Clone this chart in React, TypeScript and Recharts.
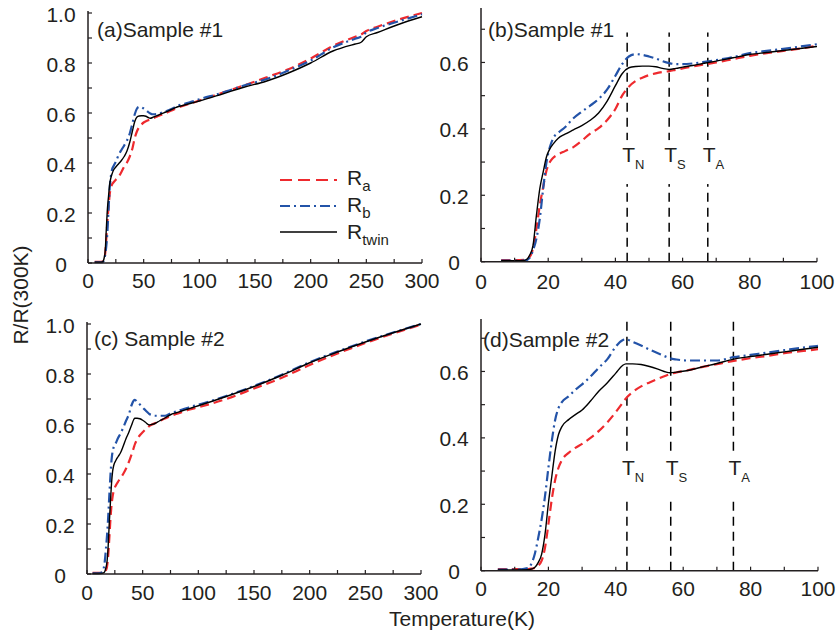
import React from "react";
import {
  LineChart,
  Line,
  XAxis,
  YAxis,
  ReferenceLine,
  ReferenceDot,
} from "recharts";

// sample #1 (panels a, b)
const temps1 = [6, 10, 13, 14.5, 15.5, 16.5, 17.5, 18.5, 19.5, 20.5, 21.5, 23, 25, 27.5, 30, 32.5, 35, 37.5, 40, 42, 44, 46, 48, 50, 52, 54, 56, 58, 60, 63, 66, 70, 75, 80, 85, 90, 95, 100, 120, 140, 160, 180, 200, 220, 240, 245, 250, 260, 280, 300];
const ra1 = [0.005, 0.005, 0.006, 0.015, 0.04, 0.1, 0.17, 0.225, 0.275, 0.3, 0.313, 0.323, 0.333, 0.345, 0.364, 0.386, 0.402, 0.426, 0.46, 0.5, 0.527, 0.544, 0.554, 0.562, 0.567, 0.571, 0.574, 0.578, 0.582, 0.588, 0.593, 0.6, 0.61, 0.62, 0.628, 0.635, 0.642, 0.65, 0.68, 0.71, 0.742, 0.775, 0.818, 0.868, 0.905, 0.913, 0.928, 0.945, 0.975, 1.0];
const rb1 = [0.003, 0.003, 0.003, 0.012, 0.035, 0.07, 0.13, 0.22, 0.3, 0.345, 0.372, 0.388, 0.405, 0.432, 0.452, 0.47, 0.49, 0.518, 0.56, 0.595, 0.618, 0.625, 0.623, 0.618, 0.612, 0.604, 0.598, 0.595, 0.595, 0.597, 0.601, 0.607, 0.616, 0.628, 0.635, 0.641, 0.648, 0.655, 0.68, 0.71, 0.735, 0.77, 0.81, 0.862, 0.897, 0.905, 0.922, 0.94, 0.968, 0.995];
const rtwin1 = [0.003, 0.003, 0.004, 0.02, 0.05, 0.14, 0.22, 0.27, 0.316, 0.34, 0.355, 0.372, 0.384, 0.397, 0.41, 0.426, 0.448, 0.483, 0.53, 0.566, 0.584, 0.588, 0.589, 0.589, 0.587, 0.582, 0.579, 0.582, 0.586, 0.591, 0.597, 0.604, 0.614, 0.624, 0.63, 0.636, 0.642, 0.648, 0.675, 0.703, 0.727, 0.76, 0.8, 0.848, 0.876, 0.882, 0.905, 0.922, 0.956, 0.985];

// sample #2 (panels c, d)
const temps2 = [5, 10, 14, 15, 16, 17, 18, 19, 20, 21, 22, 23, 24, 26, 28, 30, 32.5, 35, 37.5, 40, 42, 43, 45, 47.5, 50, 52.5, 55, 56, 58, 61, 65, 70, 75, 80, 85, 90, 95, 100, 125, 150, 175, 200, 225, 250, 275, 300];
const ra2 = [0.005, 0.005, 0.005, 0.006, 0.008, 0.015, 0.03, 0.07, 0.14, 0.215, 0.273, 0.31, 0.333, 0.355, 0.37, 0.382, 0.4, 0.421, 0.447, 0.478, 0.505, 0.519, 0.538, 0.555, 0.567, 0.578, 0.588, 0.592, 0.597, 0.603, 0.612, 0.622, 0.632, 0.64, 0.647, 0.655, 0.661, 0.667, 0.7, 0.742, 0.785, 0.836, 0.882, 0.924, 0.962, 0.998];
const rb2 = [0.003, 0.003, 0.008, 0.022, 0.052, 0.1, 0.155, 0.225, 0.31, 0.39, 0.454, 0.49, 0.508, 0.525, 0.545, 0.561, 0.585, 0.612, 0.637, 0.675, 0.694, 0.697, 0.689, 0.678, 0.666, 0.655, 0.644, 0.64, 0.636, 0.633, 0.633, 0.633, 0.643, 0.65, 0.657, 0.664, 0.671, 0.677, 0.712, 0.752, 0.797, 0.847, 0.89, 0.93, 0.966, 1.0];
const rtwin2 = [0.002, 0.002, 0.003, 0.005, 0.01, 0.025, 0.05, 0.11, 0.203, 0.283, 0.36, 0.41, 0.434, 0.455, 0.47, 0.484, 0.511, 0.541, 0.566, 0.595, 0.618, 0.623, 0.623, 0.621, 0.615, 0.607, 0.598, 0.596, 0.598, 0.602, 0.612, 0.624, 0.637, 0.645, 0.652, 0.659, 0.666, 0.673, 0.71, 0.75, 0.795, 0.845, 0.888, 0.928, 0.965, 1.0];

const xTicksWide = [0, 25, 50, 75, 100, 125, 150, 175, 200, 225, 250, 275, 300];
const xLabelsWide = [0, 50, 100, 150, 200, 250, 300];
const xTicksNarrow = [0, 10, 20, 30, 40, 50, 60, 70, 80, 90, 100];
const xLabelsNarrow = [0, 20, 40, 60, 80, 100];
const yTicksFull = [0, 0.1, 0.2, 0.3, 0.4, 0.5, 0.6, 0.7, 0.8, 0.9, 1.0];
const yLabelsFull = [0, 0.2, 0.4, 0.6, 0.8, 1.0];
const yTicksZoom = [0, 0.1, 0.2, 0.3, 0.4, 0.5, 0.6, 0.7];
const yLabelsZoom = [0, 0.2, 0.4, 0.6];

const markers1 = [
  { sub: "N", t: 43.5 },
  { sub: "S", t: 56 },
  { sub: "A", t: 67.5 },
];
const markers2 = [
  { sub: "N", t: 43.3 },
  { sub: "S", t: 56.3 },
  { sub: "A", t: 74.9 },
];

const AXIS = "#231f20";
const RED = "#ee2a2e";
const BLUE = "#2353a8";
const FONT = "'Liberation Sans', Arial, sans-serif";

const build = (t: number[], a: number[], b: number[], w: number[]) =>
  t.map((x, i) => ({ t: x, ra: a[i], rb: b[i], rtwin: w[i] }));

const data1 = build(temps1, ra1, rb1, rtwin1);
const data2 = build(temps2, ra2, rb2, rtwin2);

const isIn = (list: number[], v: number) => list.some((l) => Math.abs(l - v) < 1e-6);

const XTick = (props: any) => {
  const { x, y, payload, labels, dy } = props;
  const v = payload.value;
  return (
    <g>
      <line x1={x} y1={y} x2={x} y2={y - 4} stroke={AXIS} strokeWidth={1.2} />
      {isIn(labels, v) && (
        <text x={x} y={y + dy} textAnchor="middle" dominantBaseline="central" fontSize={21} fill={AXIS} fontFamily={FONT}>
          {v}
        </text>
      )}
    </g>
  );
};

const YTick = (props: any) => {
  const { x, y, payload, labels } = props;
  const v = payload.value;
  return (
    <g>
      <line x1={x} y1={y} x2={x + 4} y2={y} stroke={AXIS} strokeWidth={1.2} />
      {isIn(labels, v) && (
        <text x={x - 27} y={y + 1} textAnchor="middle" dominantBaseline="central" fontSize={21} fill={AXIS} fontFamily={FONT}>
          {v === 0 ? "0" : v.toFixed(1)}
        </text>
      )}
    </g>
  );
};

const MarkerLabel = ({ cx, cy, sub }: any) => (
  <g>
    <rect x={cx - 3} y={cy - 22} width={6} height={44} fill="#fff" />
    <text x={cx - 5} y={cy} fontSize={21} fill={AXIS} fontFamily={FONT}>
      T
      <tspan fontSize={13} dy={7}>
        {sub}
      </tspan>
    </text>
  </g>
);

type PanelProps = {
  plot: { left: number; top: number; right: number; bottom: number };
  data: any[];
  xMax: number;
  xTicks: number[];
  xLabels: number[];
  xDy: number;
  yMax: number;
  yTicks: number[];
  yLabels: number[];
  markers?: { sub: string; t: number }[];
  markerTop?: number;
  markerY?: number;
};

const Panel = ({ plot, data, xMax, xTicks, xLabels, xDy, yMax, yTicks, yLabels, markers, markerTop, markerY }: PanelProps) => {
  const m = { top: 10, right: 25, bottom: 0, left: 0 };
  const yw = 60;
  const xh = 40;
  const width = plot.right - plot.left + yw + m.right;
  const height = plot.bottom - plot.top + m.top + xh;
  const rows = data.filter((d) => d.t <= xMax);
  return (
    <div style={{ position: "absolute", left: plot.left - yw, top: plot.top - m.top }}>
      <LineChart width={width} height={height} data={rows} margin={m}>
        <XAxis
          dataKey="t"
          type="number"
          domain={[0, xMax]}
          ticks={xTicks}
          interval={0}
          height={xh}
          tickSize={0}
          tickMargin={0}
          tickLine={false}
          axisLine={{ stroke: AXIS, strokeWidth: 1.5 }}
          tick={(p: any) => <XTick {...p} labels={xLabels} dy={xDy} />}
        />
        <XAxis xAxisId="top" orientation="top" type="number" domain={[0, xMax]} height={0} tick={false} tickLine={false} axisLine={{ stroke: AXIS, strokeWidth: 1.5 }} />
        <YAxis
          type="number"
          domain={[0, yMax]}
          ticks={yTicks}
          interval={0}
          width={yw}
          tickSize={0}
          tickMargin={0}
          tickLine={false}
          axisLine={{ stroke: AXIS, strokeWidth: 1.5 }}
          tick={(p: any) => <YTick {...p} labels={yLabels} />}
        />
        <YAxis yAxisId="right" orientation="right" type="number" domain={[0, yMax]} width={0} tick={false} tickLine={false} axisLine={{ stroke: AXIS, strokeWidth: 1.5 }} />
        {markers &&
          markers.map((mk) =>
            markerTop !== undefined ? (
              <ReferenceLine
                key={"l" + mk.sub}
                segment={[
                  { x: mk.t, y: 0 },
                  { x: mk.t, y: markerTop },
                ]}
                stroke="#000"
                strokeWidth={1.5}
                strokeDasharray="9 6"
              />
            ) : (
              <ReferenceLine key={"l" + mk.sub} x={mk.t} stroke="#000" strokeWidth={1.5} strokeDasharray="9 6" />
            )
          )}
        {markers &&
          markers.map((mk) => (
            <ReferenceDot
              key={"d" + mk.sub}
              x={mk.t}
              y={markerY}
              r={0}
              shape={(p: any) => <MarkerLabel cx={p.cx} cy={p.cy} sub={mk.sub} />}
            />
          ))}
        <Line type="monotone" dataKey="ra" stroke={RED} strokeWidth={2.2} strokeDasharray="9 5" dot={false} isAnimationActive={false} />
        <Line type="monotone" dataKey="rb" stroke={BLUE} strokeWidth={2.2} strokeDasharray="10 4 2 4" dot={false} isAnimationActive={false} />
        <Line type="monotone" dataKey="rtwin" stroke="#000" strokeWidth={1.4} dot={false} isAnimationActive={false} />
      </LineChart>
    </div>
  );
};

const Overlay = () => (
  <svg width={838} height={631} style={{ position: "absolute", left: 0, top: 0, pointerEvents: "none" }} fontFamily={FONT} fill={AXIS}>
    <text x={97} y={37} fontSize={21}>(a)Sample #1</text>
    <text x={488} y={37} fontSize={21}>(b)Sample #1</text>
    <text x={94} y={346} fontSize={21}>(c) Sample #2</text>
    <text x={483} y={347} fontSize={21}>(d)Sample #2</text>
    <line x1={280} y1={180} x2={337} y2={180} stroke={RED} strokeWidth={2.2} strokeDasharray="12 6" />
    <line x1={280} y1={206} x2={337} y2={206} stroke={BLUE} strokeWidth={2.2} strokeDasharray="10 4 2 4" />
    <line x1={280} y1={232} x2={337} y2={232} stroke="#000" strokeWidth={1.4} />
    <text x={347} y={185} fontSize={21}>
      R<tspan fontSize={15} dy={6}>a</tspan>
    </text>
    <text x={347} y={212} fontSize={21}>
      R<tspan fontSize={15} dy={6}>b</tspan>
    </text>
    <text x={347} y={239} fontSize={21}>
      R<tspan fontSize={15} dy={6}>twin</tspan>
    </text>
    <text x={20} y={295} fontSize={21} textAnchor="middle" dominantBaseline="central" transform="rotate(-90 20 295)">
      R/R(300K)
    </text>
    <text x={462} y={626} fontSize={21} textAnchor="middle">
      Temperature(K)
    </text>
  </svg>
);

export default function App() {
  return (
    <div style={{ position: "absolute", left: 0, top: 0, width: 838, height: 631, background: "#fff" }}>
      <Panel
        plot={{ left: 88, top: 11, right: 422, bottom: 263 }}
        data={data1}
        xMax={300}
        xTicks={xTicksWide}
        xLabels={xLabelsWide}
        xDy={17}
        yMax={1.008}
        yTicks={yTicksFull}
        yLabels={yLabelsFull}
      />
      <Panel
        plot={{ left: 481, top: 8, right: 817, bottom: 261.7 }}
        data={data1}
        xMax={100}
        xTicks={xTicksNarrow}
        xLabels={xLabelsNarrow}
        xDy={20}
        yMax={0.764}
        yTicks={yTicksZoom}
        yLabels={yLabelsZoom}
        markers={markers1}
        markerTop={0.69}
        markerY={0.3}
      />
      <Panel
        plot={{ left: 87, top: 322, right: 421, bottom: 574 }}
        data={data2}
        xMax={300}
        xTicks={xTicksWide}
        xLabels={xLabelsWide}
        xDy={18}
        yMax={1.008}
        yTicks={yTicksFull}
        yLabels={yLabelsFull}
      />
      <Panel
        plot={{ left: 481, top: 319, right: 818, bottom: 570.7 }}
        data={data2}
        xMax={100}
        xTicks={xTicksNarrow}
        xLabels={xLabelsNarrow}
        xDy={18}
        yMax={0.758}
        yTicks={yTicksZoom}
        yLabels={yLabelsZoom}
        markers={markers2}
        markerY={0.288}
      />
      <Overlay />
    </div>
  );
}
